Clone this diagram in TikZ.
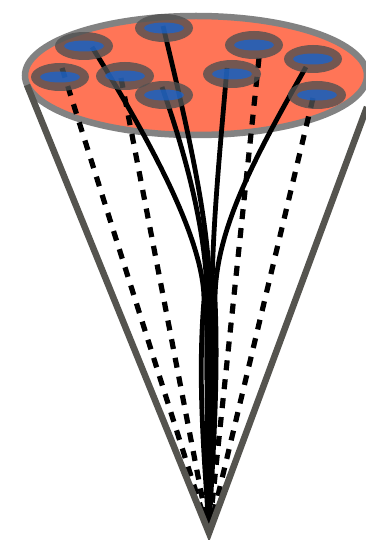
\documentclass[tikz,border=0pt]{standalone}
\usepackage{tikz}
\usetikzlibrary{calc}
\usepackage{xcolor}
\definecolor{caporange}{HTML}{FF7557}
\definecolor{rimgray}{HTML}{828282}
\definecolor{conegray}{HTML}{55544F}
\definecolor{padgray}{HTML}{505050}
\definecolor{padblue}{HTML}{1264D9}

\begin{document}
\begin{tikzpicture}[x=1pt, y=-1pt,
    rim/.style={draw=rimgray, fill=caporange, line width=6.5pt},
    side/.style={draw=conegray, line width=6.5pt, line join=miter},
    fiber/.style={draw=black, line width=4.8pt},
    dfiber/.style={draw=black, line width=5.2pt, dash pattern=on 10pt off 9pt},
    pad/.style={fill=padgray, fill opacity=0.8},
    core/.style={fill=padblue, fill opacity=0.7},
]
\useasboundingbox (0,0) rectangle (366,540);

% cap of the cone
\draw[rim] (196,75.5) ellipse [x radius=171pt, y radius=59.5pt];

\coordinate (apex) at (209,533);
\coordinate (lefttop) at (27,85);
\coordinate (righttop) at (367,107);

% pads and the points where the fibers leave them
\foreach \n/\c/\t in {1/{84,46}/{92,47}, 2/{164,28}/{163,26}, 3/{60,77}/{62,68},
                      4/{125,76}/{121,78}, 5/{164,95}/{162,87}, 6/{254,45}/{259,58},
                      7/{232,74}/{227,68}, 8/{313,59}/{306,67}, 9/{317,95}/{313,98}}{
  \coordinate (p\n) at (\c);
  \coordinate (t\n) at (\t);
}

% bundled fibers
\draw[fiber] (t1) .. controls (150,140) and (204,240) .. (204,300) .. controls (196.5,390) and (206.5,480) .. (apex);
\draw[fiber] (t5) .. controls (190,167) and (207,240) .. (207,300) .. controls (206,390) and (208.5,480) .. (apex);
\draw[fiber] (t2) .. controls (192,146) and (210,230) .. (210,300) .. controls (211.5,390) and (209.5,480) .. (apex);
\draw[fiber] (t7) .. controls (220,150) and (212,230) .. (212,300) .. controls (213.5,390) and (210.5,480) .. (apex);
\draw[fiber] (t8) .. controls (255,157) and (215,230) .. (215,300) .. controls (219,390) and (211,480) .. (apex);

% straight fibers
\foreach \n in {3,4,6,9}
  \draw[dfiber] (t\n) -- (apex);

\foreach \n in {1,...,9}{
  \fill[pad] (p\n) ellipse [x radius=29pt, y radius=14pt];
  \fill[core] (p\n) ellipse [x radius=20pt, y radius=5.5pt];
}

% sides of the cone
\draw[side] (lefttop) -- (apex) -- (righttop);

\end{tikzpicture}
\end{document}
